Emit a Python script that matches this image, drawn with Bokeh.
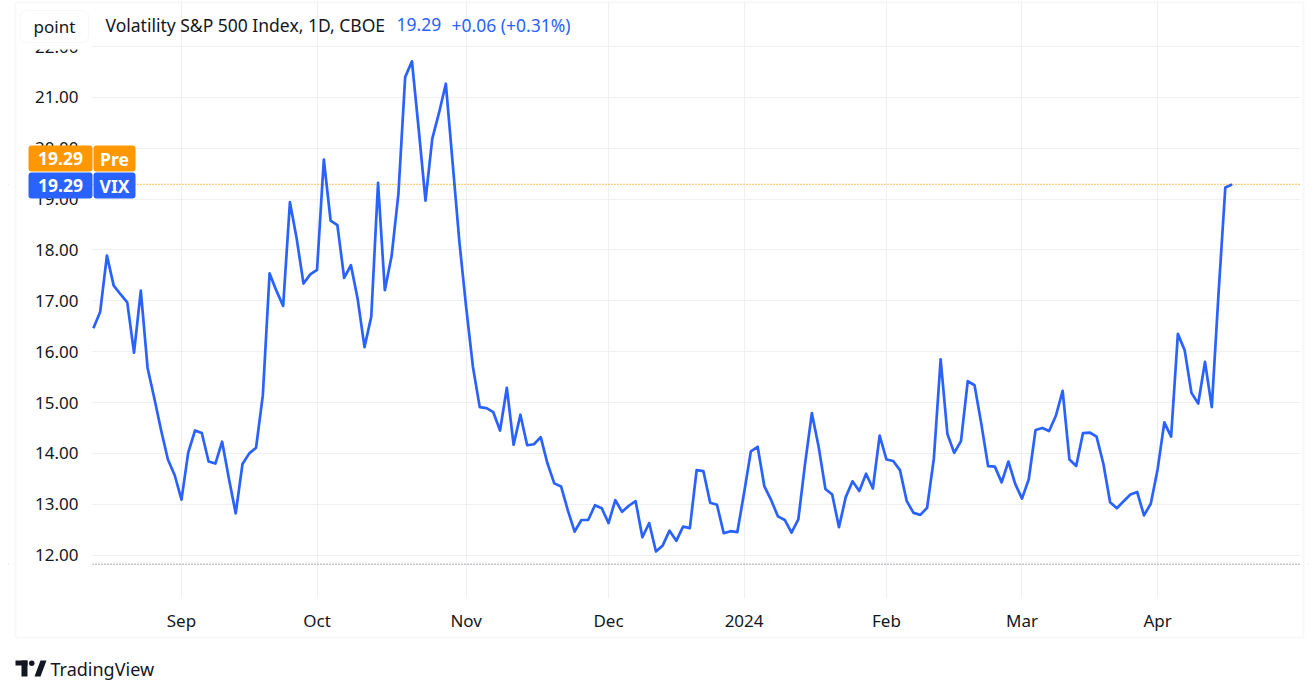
import pandas as pd
from bokeh.plotting import figure
from bokeh.models import (Range1d, FixedTicker, NumeralTickFormatter, Span, Label,
                          BoxAnnotation, PolyAnnotation)
from bokeh.embed import file_html
from bokeh.resources import INLINE

# ---------------- data ----------------
start_date = "2023-08-14"
end_date = "2024-04-16"
market_holidays = ["2023-09-04", "2023-11-23", "2023-12-25", "2024-01-01",
                   "2024-01-15", "2024-02-19", "2024-03-29"]

vix_close = [
    # Aug 2023
    14.82, 16.46, 16.78, 17.89, 17.30, 17.13, 16.97, 15.98, 17.20, 15.68, 15.08, 14.45, 13.88, 13.57,
    # Sep
    13.09, 14.02, 14.45, 14.40, 13.84, 13.80, 14.23, 13.50, 12.82, 13.79, 14.00, 14.11, 15.14, 17.54,
    17.20, 16.90, 18.94, 18.22, 17.34, 17.52,
    # Oct
    17.61, 19.78, 18.58, 18.49, 17.45, 17.70, 17.03, 16.09, 16.69, 19.32, 17.21, 17.88, 19.10, 21.40,
    21.71, 20.37, 18.97, 20.19, 20.70, 21.27, 19.72, 18.16,
    # Nov
    16.87, 15.70, 14.91, 14.89, 14.81, 14.45, 15.29, 14.17, 14.76, 14.16, 14.18, 14.32, 13.80, 13.41,
    13.35, 12.88, 12.46, 12.69, 12.69, 12.98, 12.92,
    # Dec
    12.63, 13.08, 12.85, 12.97, 13.06, 12.35, 12.63, 12.07, 12.19, 12.48, 12.28, 12.56, 12.53, 13.67,
    13.65, 13.03, 12.99, 12.43, 12.47, 12.45,
    # Jan 2024
    13.22, 14.04, 14.13, 13.35, 13.08, 12.76, 12.69, 12.44, 12.70, 13.80, 14.79, 14.13, 13.30, 13.19,
    12.55, 13.14, 13.45, 13.26, 13.60, 13.31, 14.35,
    # Feb
    13.88, 13.85, 13.67, 13.06, 12.83, 12.79, 12.93, 13.90, 15.85, 14.38, 14.01, 14.24, 15.42, 15.34,
    14.58, 13.75, 13.74, 13.43, 13.84, 13.40,
    # Mar
    13.11, 13.49, 14.46, 14.50, 14.44, 14.74, 15.23, 13.88, 13.75, 14.40, 14.41, 14.33, 13.80, 13.04,
    12.92, 13.06, 13.19, 13.24, 12.78, 13.01,
    # Apr
    13.68, 14.61, 14.33, 16.35, 16.03, 15.19, 14.98, 15.80, 14.91, 17.15, 19.23, 19.29,
]

y_ticks = [12, 13, 14, 15, 16, 17, 18, 19, 20, 21, 22]
pre_price = 19.29
marker_level = 11.82
symbol = "VIX"
session_tag = "Pre"
title_text = "Volatility S&P 500 Index, 1D, CBOE"
interval_button = "point"
brand = "TradingView"

# ---------------- derived ----------------
dates = [d for d in pd.bdate_range(start_date, end_date)
         if d.strftime("%Y-%m-%d") not in market_holidays]
assert len(dates) == len(vix_close), (len(dates), len(vix_close))
idx = list(range(len(dates)))

tick_idx, tick_labels = [], []
for i in range(1, len(dates)):
    if dates[i].month != dates[i - 1].month:
        tick_idx.append(i)
        tick_labels.append(str(dates[i].year) if dates[i].month == 1 else dates[i].strftime("%b"))

last = vix_close[-1]
chg = last - vix_close[-2]
pct = chg / vix_close[-2] * 100
first_visible = 1   # the first bar lies left of the visible window

# ---------------- style / layout ----------------
FONT = "Noto Sans"
TXT = "#131722"
BLUE = "#2962ff"
ORANGE = "#ff9800"
GRID = "#eff0f3"
W, H = 1312, 692
FL, FB = 8, 692           # page coords of plot frame left / bottom


def sx(px):
    return px - FL


def sy(py):
    return FB - py


p = figure(width=W, height=H, output_backend="svg", toolbar_location=None,
           x_range=Range1d(-11.52, 180.27), y_range=Range1d(9.297, 22.907),
           min_border_left=8, min_border_right=4, min_border_top=0, min_border_bottom=0,
           background_fill_color="white", border_fill_color="white")
p.outline_line_color = None

# axes (labels drawn inward, into the chart pane)
p.yaxis.ticker = FixedTicker(ticks=y_ticks)
p.yaxis.formatter = NumeralTickFormatter(format="0.00")
p.xaxis.ticker = FixedTicker(ticks=tick_idx)
p.xaxis.major_label_overrides = {t: l for t, l in zip(tick_idx, tick_labels)}
for ax in (p.xaxis[0], p.yaxis[0]):
    ax.axis_line_color = None
    ax.major_tick_line_color = None
    ax.minor_tick_line_color = None
    ax.major_label_text_font = FONT
    ax.major_label_text_font_size = "17px"
    ax.major_label_text_color = TXT
p.yaxis.major_label_standoff = -76
p.xaxis.major_label_standoff = -90

p.xgrid.ticker = FixedTicker(ticks=tick_idx)
p.ygrid.ticker = FixedTicker(ticks=y_ticks)
p.xgrid.grid_line_color = GRID
p.ygrid.grid_line_color = GRID

# reference lines (underlay so that the pane masks trim them)
p.add_layout(Span(location=marker_level, dimension="width", line_color="#50535e",
                  line_dash="1 2", line_width=1, level="underlay"))
p.add_layout(Span(location=pre_price, dimension="width", line_color=ORANGE,
                  line_dash="1 2", line_width=1.3, level="underlay"))


def box(l, r, t, b, **kw):
    return BoxAnnotation(left=sx(l), right=sx(r), top=sy(t), bottom=sy(b),
                         left_units="screen", right_units="screen",
                         top_units="screen", bottom_units="screen", **kw)


def label(x, y, text, size="17px", color=TXT, align="left", style="normal", font=FONT):
    return Label(x=sx(x), y=sy(y), x_units="screen", y_units="screen", text=text,
                 text_font=font, text_font_size=size, text_color=color,
                 text_align=align, text_baseline="middle", text_font_style=style)


# masks around the price pane (trim grid lines / spans)
for l, r, t, b in [(8, 92, 0, 692), (1300, 1308, 0, 692), (8, 1308, 0, 2), (8, 1308, 598, 692)]:
    p.add_layout(box(l, r, t, b, fill_color="white", fill_alpha=1, line_color=None,
                     level="underlay"))

# price series
p.line(idx[first_visible:], vix_close[first_visible:], line_color=BLUE, line_width=2.7,
       line_join="round")

# outer frame
p.add_layout(box(15, 1303, 2, 637, fill_color=None, line_color="#e0e3eb", line_width=2))
# cover behind header (hides top axis label)
p.add_layout(box(16, 91, 3, 49, fill_color="white", fill_alpha=1, line_color=None))

# header
p.add_layout(box(20, 88, 10, 42, fill_color="white", fill_alpha=1, line_color="#e0e3eb",
                 line_width=1, border_radius=6))
p.add_layout(label(54, 26, interval_button, align="center"))
p.add_layout(label(105, 24, title_text, size="17.5px"))
p.add_layout(label(396, 24, f"{last:.2f}", color=BLUE, size="17.5px"))
p.add_layout(label(451, 24, f"{chg:+.2f} ({pct:+.2f}%)", color=BLUE, size="17.5px"))

# price tags
for top, bot, col in [(145, 171, ORANGE), (172, 198, BLUE)]:
    p.add_layout(box(28, 92, top, bot, fill_color=col, fill_alpha=1, line_color=None,
                     border_radius=3))
    p.add_layout(box(93, 135, top, bot, fill_color=col, fill_alpha=1, line_color=None,
                     border_radius=3))
p.add_layout(label(60, 158, f"{pre_price:.2f}", color="white", align="center", style="bold",
                   size="17.5px"))
p.add_layout(label(114, 158, session_tag, color="white", align="center", style="bold",
                   size="17.5px"))
p.add_layout(label(60, 185, f"{last:.2f}", color="white", align="center", style="bold",
                   size="17.5px"))
p.add_layout(label(114, 185, symbol, color="white", align="center", style="bold",
                   size="17.5px"))

# brand logo
p.add_layout(box(15, 27, 660, 665, fill_color=TXT, fill_alpha=1, line_color=None))
p.add_layout(box(21, 27, 660, 676, fill_color=TXT, fill_alpha=1, line_color=None))
p.add_layout(box(28.5, 34, 660, 665.5, fill_color=TXT, fill_alpha=1, line_color=None,
                 border_radius=3))
p.add_layout(PolyAnnotation(xs=[sx(34), sx(40), sx(46), sx(40)],
                            ys=[sy(676), sy(660), sy(660), sy(676)],
                            xs_units="screen", ys_units="screen",
                            fill_color=TXT, fill_alpha=1, line_color=None))
p.add_layout(label(50, 668, brand, size="18px"))

open("out.html", "w").write(file_html(p, INLINE))
